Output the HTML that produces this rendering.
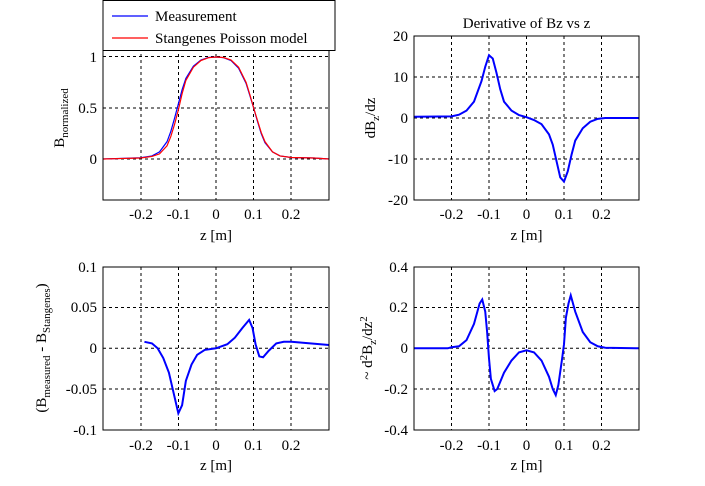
<!DOCTYPE html>
<html><head><meta charset="utf-8"><style>html,body{margin:0;padding:0;background:#fff}svg{display:block}</style></head>
<body>
<svg width="705" height="486" viewBox="0 0 705 486" xmlns="http://www.w3.org/2000/svg" font-family="Liberation Serif, serif" font-size="15" fill="#000">
<rect width="705" height="486" fill="#fff"/>
<g stroke="#000" stroke-width="1" stroke-dasharray="3,3" fill="none">
<!-- TL grid -->
<path d="M141,36V200M178.5,36V200M216,36V200M253.5,36V200M291,36V200M103,56.5H329M103,108H329M103,159H329"/>
<!-- TR grid -->
<path d="M451.5,36V200M489,36V200M526.5,36V200M564,36V200M601.5,36V200M414,77H639M414,118H639M414,159H639"/>
<!-- BL grid -->
<path d="M141,267V430M178.5,267V430M216,267V430M253.5,267V430M291,267V430M103,307.5H329M103,348.3H329M103,389H329"/>
<!-- BR grid -->
<path d="M451.5,267V430M489,267V430M526.5,267V430M564,267V430M601.5,267V430M414,307.5H639M414,348.3H639M414,389H639"/>
</g>
<!-- TL curves -->
<g transform="translate(216,159) scale(376.67,-102)" fill="none">
<polyline vector-effect="non-scaling-stroke" stroke="#0000ff" stroke-width="1.2" points="-0.3,0 -0.2,0.012 -0.17,0.03 -0.15,0.07 -0.13,0.17 -0.12,0.27 -0.11,0.4 -0.1,0.54 -0.09,0.68 -0.08,0.79 -0.06,0.91 -0.04,0.97 -0.02,0.995 0,1 0.02,0.993 0.04,0.965 0.06,0.89 0.08,0.74 0.09,0.62 0.1,0.5 0.11,0.37 0.12,0.25 0.13,0.16 0.15,0.07 0.17,0.03 0.2,0.015 0.26,0.01 0.3,0"/>
<polyline vector-effect="non-scaling-stroke" stroke="#ff0000" stroke-width="1.2" points="-0.3,0 -0.2,0.01 -0.17,0.025 -0.15,0.05 -0.13,0.13 -0.12,0.22 -0.11,0.34 -0.1,0.48 -0.09,0.64 -0.08,0.77 -0.06,0.9 -0.04,0.965 -0.02,0.993 0,1 0.02,0.995 0.04,0.97 0.06,0.9 0.08,0.75 0.09,0.63 0.1,0.5 0.11,0.38 0.12,0.26 0.13,0.17 0.15,0.07 0.17,0.03 0.2,0.015 0.26,0.01 0.3,0"/>
</g>
<!-- TR curve -->
<g transform="translate(526.5,118) scale(375,-4.1)" fill="none">
<polyline vector-effect="non-scaling-stroke" stroke="#0000ff" stroke-width="2" points="-0.3,0.3 -0.2,0.4 -0.18,0.8 -0.16,1.8 -0.14,4 -0.12,9 -0.11,12.5 -0.1,15.3 -0.09,14.5 -0.08,11 -0.07,7 -0.06,4 -0.04,1.8 -0.02,0.7 0,0.2 0.02,-0.5 0.04,-1.5 0.06,-4 0.07,-6.5 0.08,-10.5 0.09,-14.5 0.1,-15.5 0.11,-13 0.12,-9 0.13,-5.5 0.15,-2.5 0.17,-0.9 0.19,-0.2 0.21,0 0.3,0"/>
</g>
<!-- BL curve -->
<g transform="translate(216,348.3) scale(376.67,-813)" fill="none">
<polyline vector-effect="non-scaling-stroke" stroke="#0000ff" stroke-width="2" points="-0.19,0.008 -0.17,0.006 -0.155,0 -0.14,-0.012 -0.125,-0.03 -0.11,-0.06 -0.1,-0.08 -0.09,-0.07 -0.08,-0.04 -0.065,-0.02 -0.05,-0.008 -0.03,-0.002 0,0 0.03,0.005 0.05,0.013 0.07,0.025 0.088,0.035 0.097,0.025 0.105,0.005 0.115,-0.01 0.125,-0.011 0.14,-0.003 0.16,0.006 0.18,0.008 0.2,0.008 0.25,0.006 0.3,0.004"/>
</g>
<!-- BR curve -->
<g transform="translate(526.5,348.3) scale(375,-203.5)" fill="none">
<polyline vector-effect="non-scaling-stroke" stroke="#0000ff" stroke-width="2" points="-0.3,0 -0.21,0 -0.2,0.005 -0.18,0.01 -0.16,0.04 -0.14,0.12 -0.125,0.22 -0.118,0.24 -0.11,0.18 -0.105,0.08 -0.1,-0.05 -0.095,-0.15 -0.085,-0.21 -0.078,-0.2 -0.06,-0.12 -0.04,-0.06 -0.02,-0.02 0,-0.01 0.02,-0.02 0.04,-0.06 0.06,-0.14 0.07,-0.2 0.078,-0.23 0.085,-0.18 0.095,-0.05 0.1,0.02 0.105,0.15 0.112,0.22 0.118,0.26 0.13,0.18 0.15,0.08 0.17,0.03 0.19,0.01 0.21,0.003 0.3,0"/>
</g>
<!-- axes boxes -->
<g stroke="#000" stroke-width="1" fill="none">
<rect x="103" y="36" width="226" height="164"/>
<rect x="414" y="36" width="225" height="164"/>
<rect x="103" y="267" width="226" height="163"/>
<rect x="414" y="267" width="225" height="163"/>
</g>
<!-- legend -->
<rect x="103" y="0.5" width="232" height="50" fill="#fff" stroke="#000"/>
<line x1="112" y1="16" x2="148" y2="16" stroke="#0000ff" stroke-width="1.2"/>
<line x1="112" y1="38" x2="148" y2="38" stroke="#ff0000" stroke-width="1.2"/>
<text x="155" y="21">Measurement</text>
<text x="155" y="43">Stangenes Poisson model</text>
<!-- tick labels -->
<g text-anchor="middle">
<text x="141" y="219">-0.2</text><text x="178.5" y="219">-0.1</text><text x="216" y="219">0</text><text x="253.5" y="219">0.1</text><text x="291" y="219">0.2</text>
<text x="451.5" y="219">-0.2</text><text x="489" y="219">-0.1</text><text x="526.5" y="219">0</text><text x="564" y="219">0.1</text><text x="601.5" y="219">0.2</text>
<text x="141" y="450">-0.2</text><text x="178.5" y="450">-0.1</text><text x="216" y="450">0</text><text x="253.5" y="450">0.1</text><text x="291" y="450">0.2</text>
<text x="451.5" y="450">-0.2</text><text x="489" y="450">-0.1</text><text x="526.5" y="450">0</text><text x="564" y="450">0.1</text><text x="601.5" y="450">0.2</text>
<text x="216" y="240">z [m]</text><text x="526.5" y="240">z [m]</text>
<text x="216" y="470">z [m]</text><text x="526.5" y="470">z [m]</text>
<text x="526.5" y="28">Derivative of Bz vs z</text>
</g>
<g text-anchor="end">
<text x="97" y="62">1</text><text x="97" y="113">0.5</text><text x="97" y="164">0</text>
<text x="408" y="41">20</text><text x="408" y="82">10</text><text x="408" y="123">0</text><text x="408" y="164">-10</text><text x="408" y="205">-20</text>
<text x="97" y="272">0.1</text><text x="97" y="312">0.05</text><text x="97" y="353">0</text><text x="97" y="394">-0.05</text><text x="97" y="435">-0.1</text>
<text x="408" y="272">0.4</text><text x="408" y="312">0.2</text><text x="408" y="353">0</text><text x="408" y="394">-0.2</text><text x="408" y="435">-0.4</text>
</g>
<!-- y labels -->
<text transform="translate(64,118) rotate(-90)" text-anchor="middle">B<tspan font-size="11" dy="4">normalized</tspan></text>
<text transform="translate(375,118) rotate(-90)" text-anchor="middle">dB<tspan font-size="11" dy="4">z</tspan><tspan dy="-4">/dz</tspan></text>
<text transform="translate(46,348) rotate(-90)" text-anchor="middle">(B<tspan font-size="11" dy="4">measured</tspan><tspan dy="-4"> - B</tspan><tspan font-size="11" dy="4">Stangenes</tspan><tspan dy="-4">)</tspan></text>
<text transform="translate(372,348) rotate(-90)" text-anchor="middle">~ d<tspan font-size="11" dy="-5">2</tspan><tspan dy="5">B</tspan><tspan font-size="11" dy="4">z</tspan><tspan dy="-4">/dz</tspan><tspan font-size="11" dy="-5">2</tspan></text>
</svg>
</body></html>
